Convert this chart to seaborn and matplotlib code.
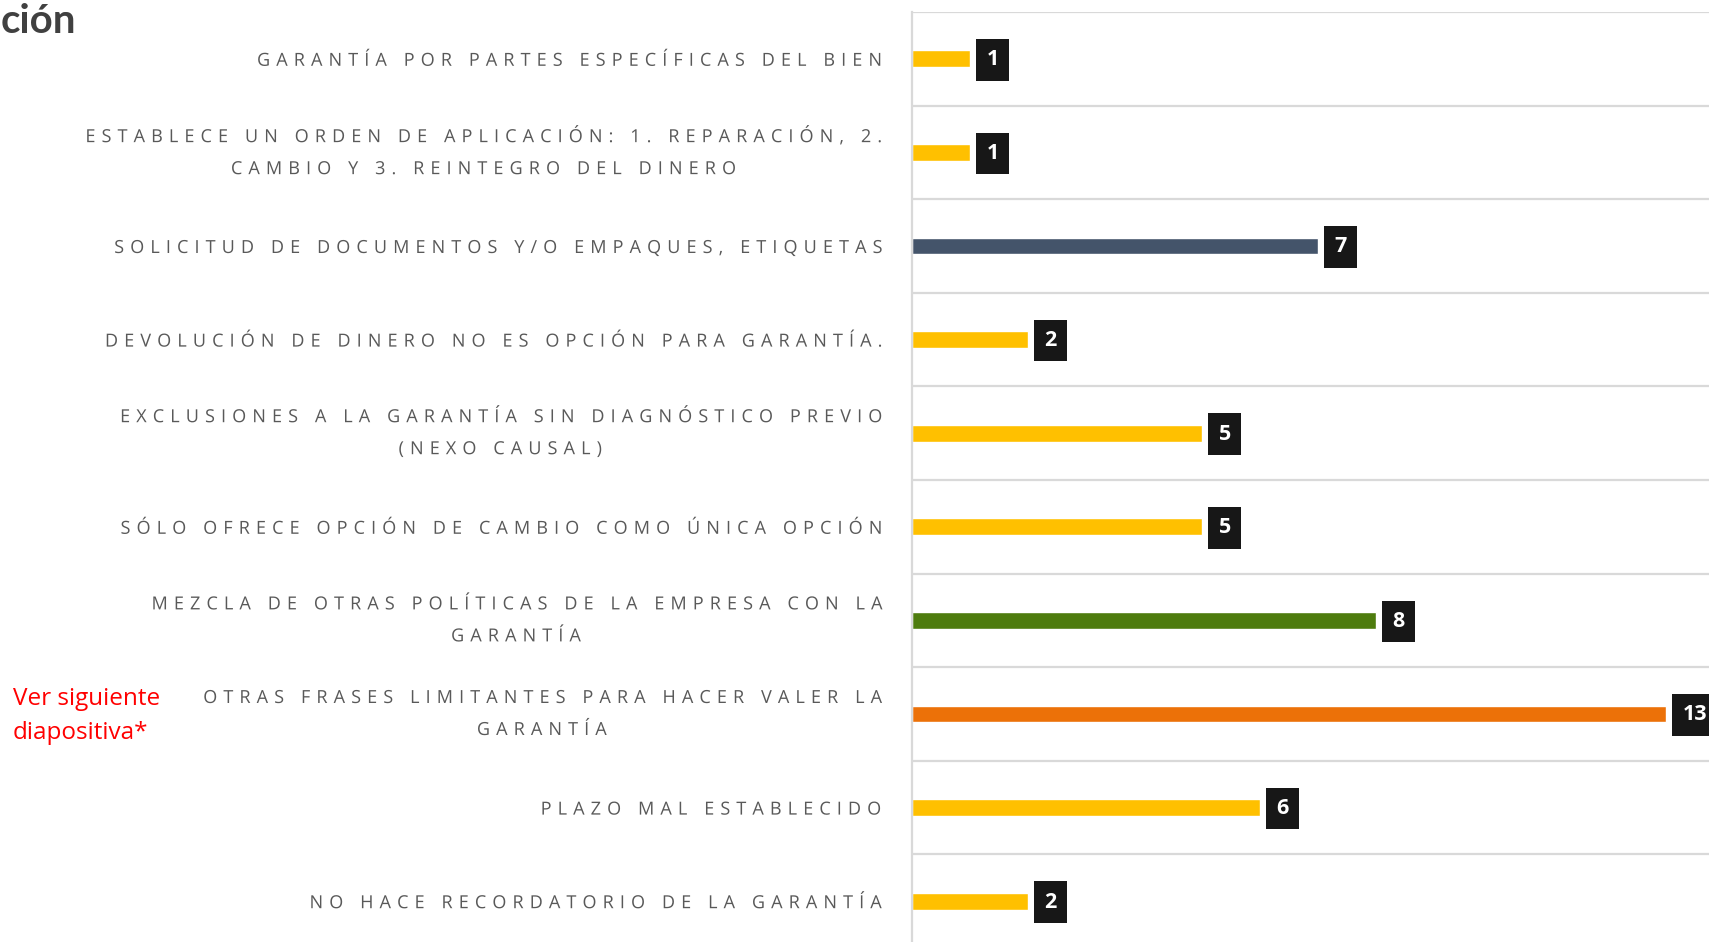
import matplotlib
matplotlib.use("Agg")
import matplotlib.pyplot as plt
import seaborn as sns
import numpy as np
import pandas as pd
from matplotlib.patheffects import AbstractPathEffect
from matplotlib.path import Path

# ---- data ----
categories = [
    "GARANTÍA POR PARTES ESPECÍFICAS DEL BIEN",
    "ESTABLECE UN ORDEN DE APLICACIÓN: 1. REPARACIÓN, 2.\nCAMBIO Y 3. REINTEGRO DEL DINERO",
    "SOLICITUD DE DOCUMENTOS Y/O EMPAQUES, ETIQUETAS",
    "DEVOLUCIÓN DE DINERO NO ES OPCIÓN PARA GARANTÍA.",
    "EXCLUSIONES A LA GARANTÍA SIN DIAGNÓSTICO PREVIO\n(NEXO CAUSAL)",
    "SÓLO OFRECE OPCIÓN DE CAMBIO COMO ÚNICA OPCIÓN",
    "MEZCLA DE OTRAS POLÍTICAS DE LA EMPRESA CON LA\nGARANTÍA",
    "OTRAS FRASES LIMITANTES PARA HACER VALER LA\nGARANTÍA",
    "PLAZO MAL ESTABLECIDO",
    "NO HACE RECORDATORIO DE LA GARANTÍA",
]
values = [1, 1, 7, 2, 5, 5, 8, 13, 6, 2]
bar_colors = ["#FFC000", "#FFC000", "#44546A", "#FFC000", "#FFC000",
              "#FFC000", "#4E7C0E", "#EC7108", "#FFC000", "#FFC000"]
title_fragment = "ción"
side_note = "Ver siguiente\ndiapositiva*"

df = pd.DataFrame({"cat": categories, "val": values})


class LetterSpacing(AbstractPathEffect):
    """Draws a text with extra space after each character (like PowerPoint
    character spacing); the text itself is unchanged."""

    def __init__(self, text_artist, spacing_px, ha="right", ma="center"):
        super().__init__()
        self.t = text_artist
        self.sp = spacing_px
        self.ha = ha
        self.ma = ma

    def draw_path(self, renderer, gc, tpath, affine, rgbFace=None):
        try:
            t2p = renderer._text2path
            prop = self.t.get_fontproperties()
            lines = self.t.get_text().split("\n")
            font = t2p._get_font(prop)
            infos = []
            for ln in lines:
                ginfo, gmap, rects = t2p.get_glyphs_with_font(font, ln)
                counts = [len(gmap[g[0]][0]) for g in ginfo]
                w, h, d = renderer.get_text_width_height_descent(ln, prop, ismath=False)
                infos.append((counts, w))
            n = len(tpath.vertices)
            idx = None
            for i, (c, w) in enumerate(infos):
                if sum(c) == n:
                    idx = i
                    break
            if idx is None:
                raise ValueError
            sp = self.sp
            W0 = max(w for c, w in infos)
            neww = [w + sp * (len(c) - 1) for c, w in infos]
            W1 = max(neww)
            counts, w = infos[idx]
            if self.ha == "right":
                block = W0 - W1
            elif self.ha == "center":
                block = (W0 - W1) / 2
            else:
                block = 0.0
            if self.ma == "center":
                inner = (W1 - neww[idx]) / 2 - (W0 - w) / 2
            elif self.ma == "right":
                inner = (W1 - neww[idx]) - (W0 - w)
            else:
                inner = 0.0
            a = affine.get_matrix()[0, 0]
            v = np.array(tpath.vertices, dtype=float).copy()
            offs = np.repeat(np.arange(len(counts)) * sp / a, counts)
            v[:, 0] += offs + (block + inner) / a
            renderer.draw_path(gc, Path(v, tpath.codes), affine, rgbFace)
        except Exception:
            renderer.draw_path(gc, tpath, affine, rgbFace)


sns.set_theme(style="white")
plt.rcParams["font.family"] = ["Open Sans", "DejaVu Sans"]

W, H = 1709, 942
fig = plt.figure(figsize=(W / 100, H / 100), dpi=100)
fig.patch.set_facecolor("white")

x0, top, bottom = 912, 12, 948
px_per_unit = 58.0
xmax = 15
ax = fig.add_axes([x0 / W, 1 - bottom / H, xmax * px_per_unit / W, (bottom - top) / H])

sns.barplot(data=df, y="cat", x="val", hue="cat", palette=bar_colors,
            orient="h", width=0.18, legend=False, ax=ax, saturation=1)

ax.set_xlim(0, xmax)
ax.set_ylim(len(categories) - 0.5, -0.5)
ax.set_xlabel("")
ax.set_ylabel("")
ax.set_xticks([])

# grid between categories
ax.set_yticks(np.arange(-0.5, len(categories), 1), minor=True)
ax.grid(which="minor", axis="y", color="#D9D9D9", linewidth=1.6)
ax.grid(which="major", visible=False)
ax.tick_params(axis="y", which="both", length=0, pad=23)
ax.set_yticks(range(len(categories)))
ax.set_yticklabels(categories, fontsize=13, color="#595959",
                   linespacing=2.0, multialignment="center")

for s in ["top", "right", "bottom"]:
    ax.spines[s].set_visible(False)
ax.spines["left"].set_color("#D9D9D9")
ax.spines["left"].set_linewidth(1.6)

# value labels in dark boxes
for i, v in enumerate(values):
    ax.annotate(str(v), xy=(v, i), xytext=(16.5, -1), textcoords="offset pixels",
                ha="left", va="center", color="white", fontsize=15.5,
                fontweight="bold",
                bbox=dict(boxstyle="square,pad=0.48", fc="#171717", ec="none"))

# title fragment and side note
fig.text(1 / W, 1 - 33 / H, title_fragment, ha="left", va="baseline",
         fontsize=29, fontweight="bold", color="#404040", family=["Lato", "DejaVu Sans"])
fig.text(13 / W, 1 - 716 / H, side_note, ha="left", va="center",
         fontsize=17.5, color="#FF0000", linespacing=1.55)

# letter-spaced category labels (same text, wider tracking)
fig.canvas.draw()
for tick in ax.yaxis.get_major_ticks():
    lab = tick.label1
    if "\n" in lab.get_text():
        lab.set_verticalalignment("center")
    lab.set_path_effects([LetterSpacing(lab, 6.1, ha="right", ma="center")])

fig.savefig("out.png", dpi=100)
